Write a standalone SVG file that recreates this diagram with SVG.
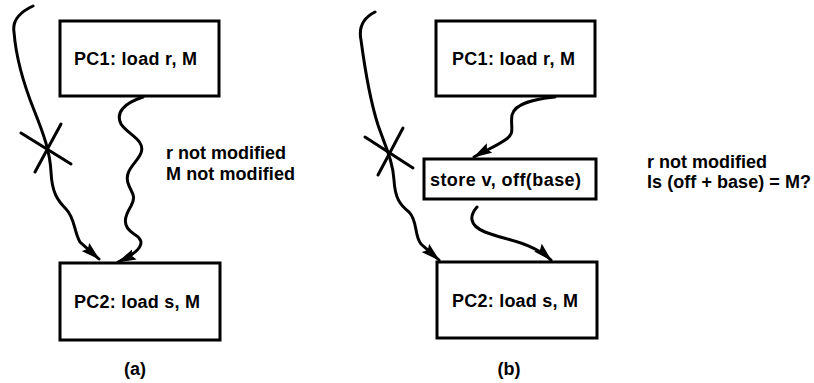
<svg xmlns="http://www.w3.org/2000/svg" width="814" height="383" viewBox="0 0 814 383">
  <style>
    .box { fill: #fff; stroke: #000; stroke-width: 3; }
    .lbl { font-family: "Liberation Sans", Arial, Helvetica, sans-serif; font-size: 18px; font-weight: bold; fill: #000; }
    .wire { fill: none; stroke: #000; stroke-width: 3; stroke-linecap: round; }
    .cross { fill: none; stroke: #000; stroke-width: 3; stroke-linecap: round; }
  </style>
  <defs>
    <marker id="arrow" markerUnits="userSpaceOnUse" markerWidth="22" markerHeight="12" refX="18" refY="5.5" orient="auto">
      <path d="M0,0 L19,5.5 L0,11 L3,5.5 z" fill="#000"/>
    </marker>
  </defs>
  <rect width="814" height="383" fill="#fff"/>

  <!-- (a) -->
  <g id="a-pc1">
    <rect class="box" x="60" y="21" width="159" height="75"/>
    <text class="lbl" x="74" y="65" textLength="123" lengthAdjust="spacing">PC1: load r, M</text>
  </g>
  <g id="a-pc2">
    <rect class="box" x="60" y="263" width="160" height="77"/>
    <text class="lbl" x="74" y="308" textLength="126" lengthAdjust="spacing">PC2: load s, M</text>
  </g>
  <g id="a-notes">
    <text class="lbl" x="166" y="159" textLength="120" lengthAdjust="spacing">r not modified</text>
    <text class="lbl" x="166" y="180" textLength="129" lengthAdjust="spacing">M not modified</text>
    <text class="lbl" x="135" y="375" text-anchor="middle">(a)</text>
  </g>

  <!-- (b) -->
  <g id="b-pc1">
    <rect class="box" x="436" y="21" width="159" height="75"/>
    <text class="lbl" x="452" y="65" textLength="123" lengthAdjust="spacing">PC1: load r, M</text>
  </g>
  <g id="b-store">
    <rect class="box" x="424" y="159" width="172" height="40"/>
    <text class="lbl" x="430" y="186" textLength="151" lengthAdjust="spacing">store v, off(base)</text>
  </g>
  <g id="b-pc2">
    <rect class="box" x="437" y="262" width="160" height="76"/>
    <text class="lbl" x="452" y="307" textLength="126" lengthAdjust="spacing">PC2: load s, M</text>
  </g>
  <g id="b-notes">
    <text class="lbl" x="647" y="168" textLength="120" lengthAdjust="spacing">r not modified</text>
    <text class="lbl" x="647" y="188" textLength="164" lengthAdjust="spacing">Is (off + base) = M?</text>
    <text class="lbl" x="509" y="375" text-anchor="middle">(b)</text>
  </g>

  <g id="connectors">
    <!-- (a) killed path -->
    <path class="wire" marker-end="url(#arrow)" d="M33,6 C20,12 12,20 14,32 C16,58 24,85 34,110 C44,135 50,152 51,172 C52,192 57,200 66,209 C75,218 74,232 80,242 L99,259"/>
    <path class="cross" d="M21,133 L71,164 M61,124 L35,172"/>
    <!-- (a) direct path -->
    <path class="wire" marker-end="url(#arrow)" d="M143,97 C125,103 115,112 121,124 C127,134 146,140 141,153 C137,163 124,170 128,183 C131,193 137,195 131,206 C125,216 121,226 134,234 C148,242 140,252 118,262"/>

    <!-- (b) killed path -->
    <path class="wire" marker-end="url(#arrow)" d="M375,12 C365,17 358,25 361,40 C365,70 370,100 378,125 C386,148 393,162 394,180 C395,198 400,205 409,212 C418,221 414,236 421,244 L439,260"/>
    <path class="cross" d="M365,137 L413,168 M403,128 L378,175"/>
    <!-- (b) PC1 to store -->
    <path class="wire" marker-end="url(#arrow)" d="M555,97 C535,99 515,103 512,115 C510,128 516,133 505,140 C495,147 486,150 474,157"/>
    <!-- (b) store to PC2 -->
    <path class="wire" marker-end="url(#arrow)" d="M477,207 C470,215 468,225 485,232 C505,240 532,242 551,260"/>
  </g>
</svg>
